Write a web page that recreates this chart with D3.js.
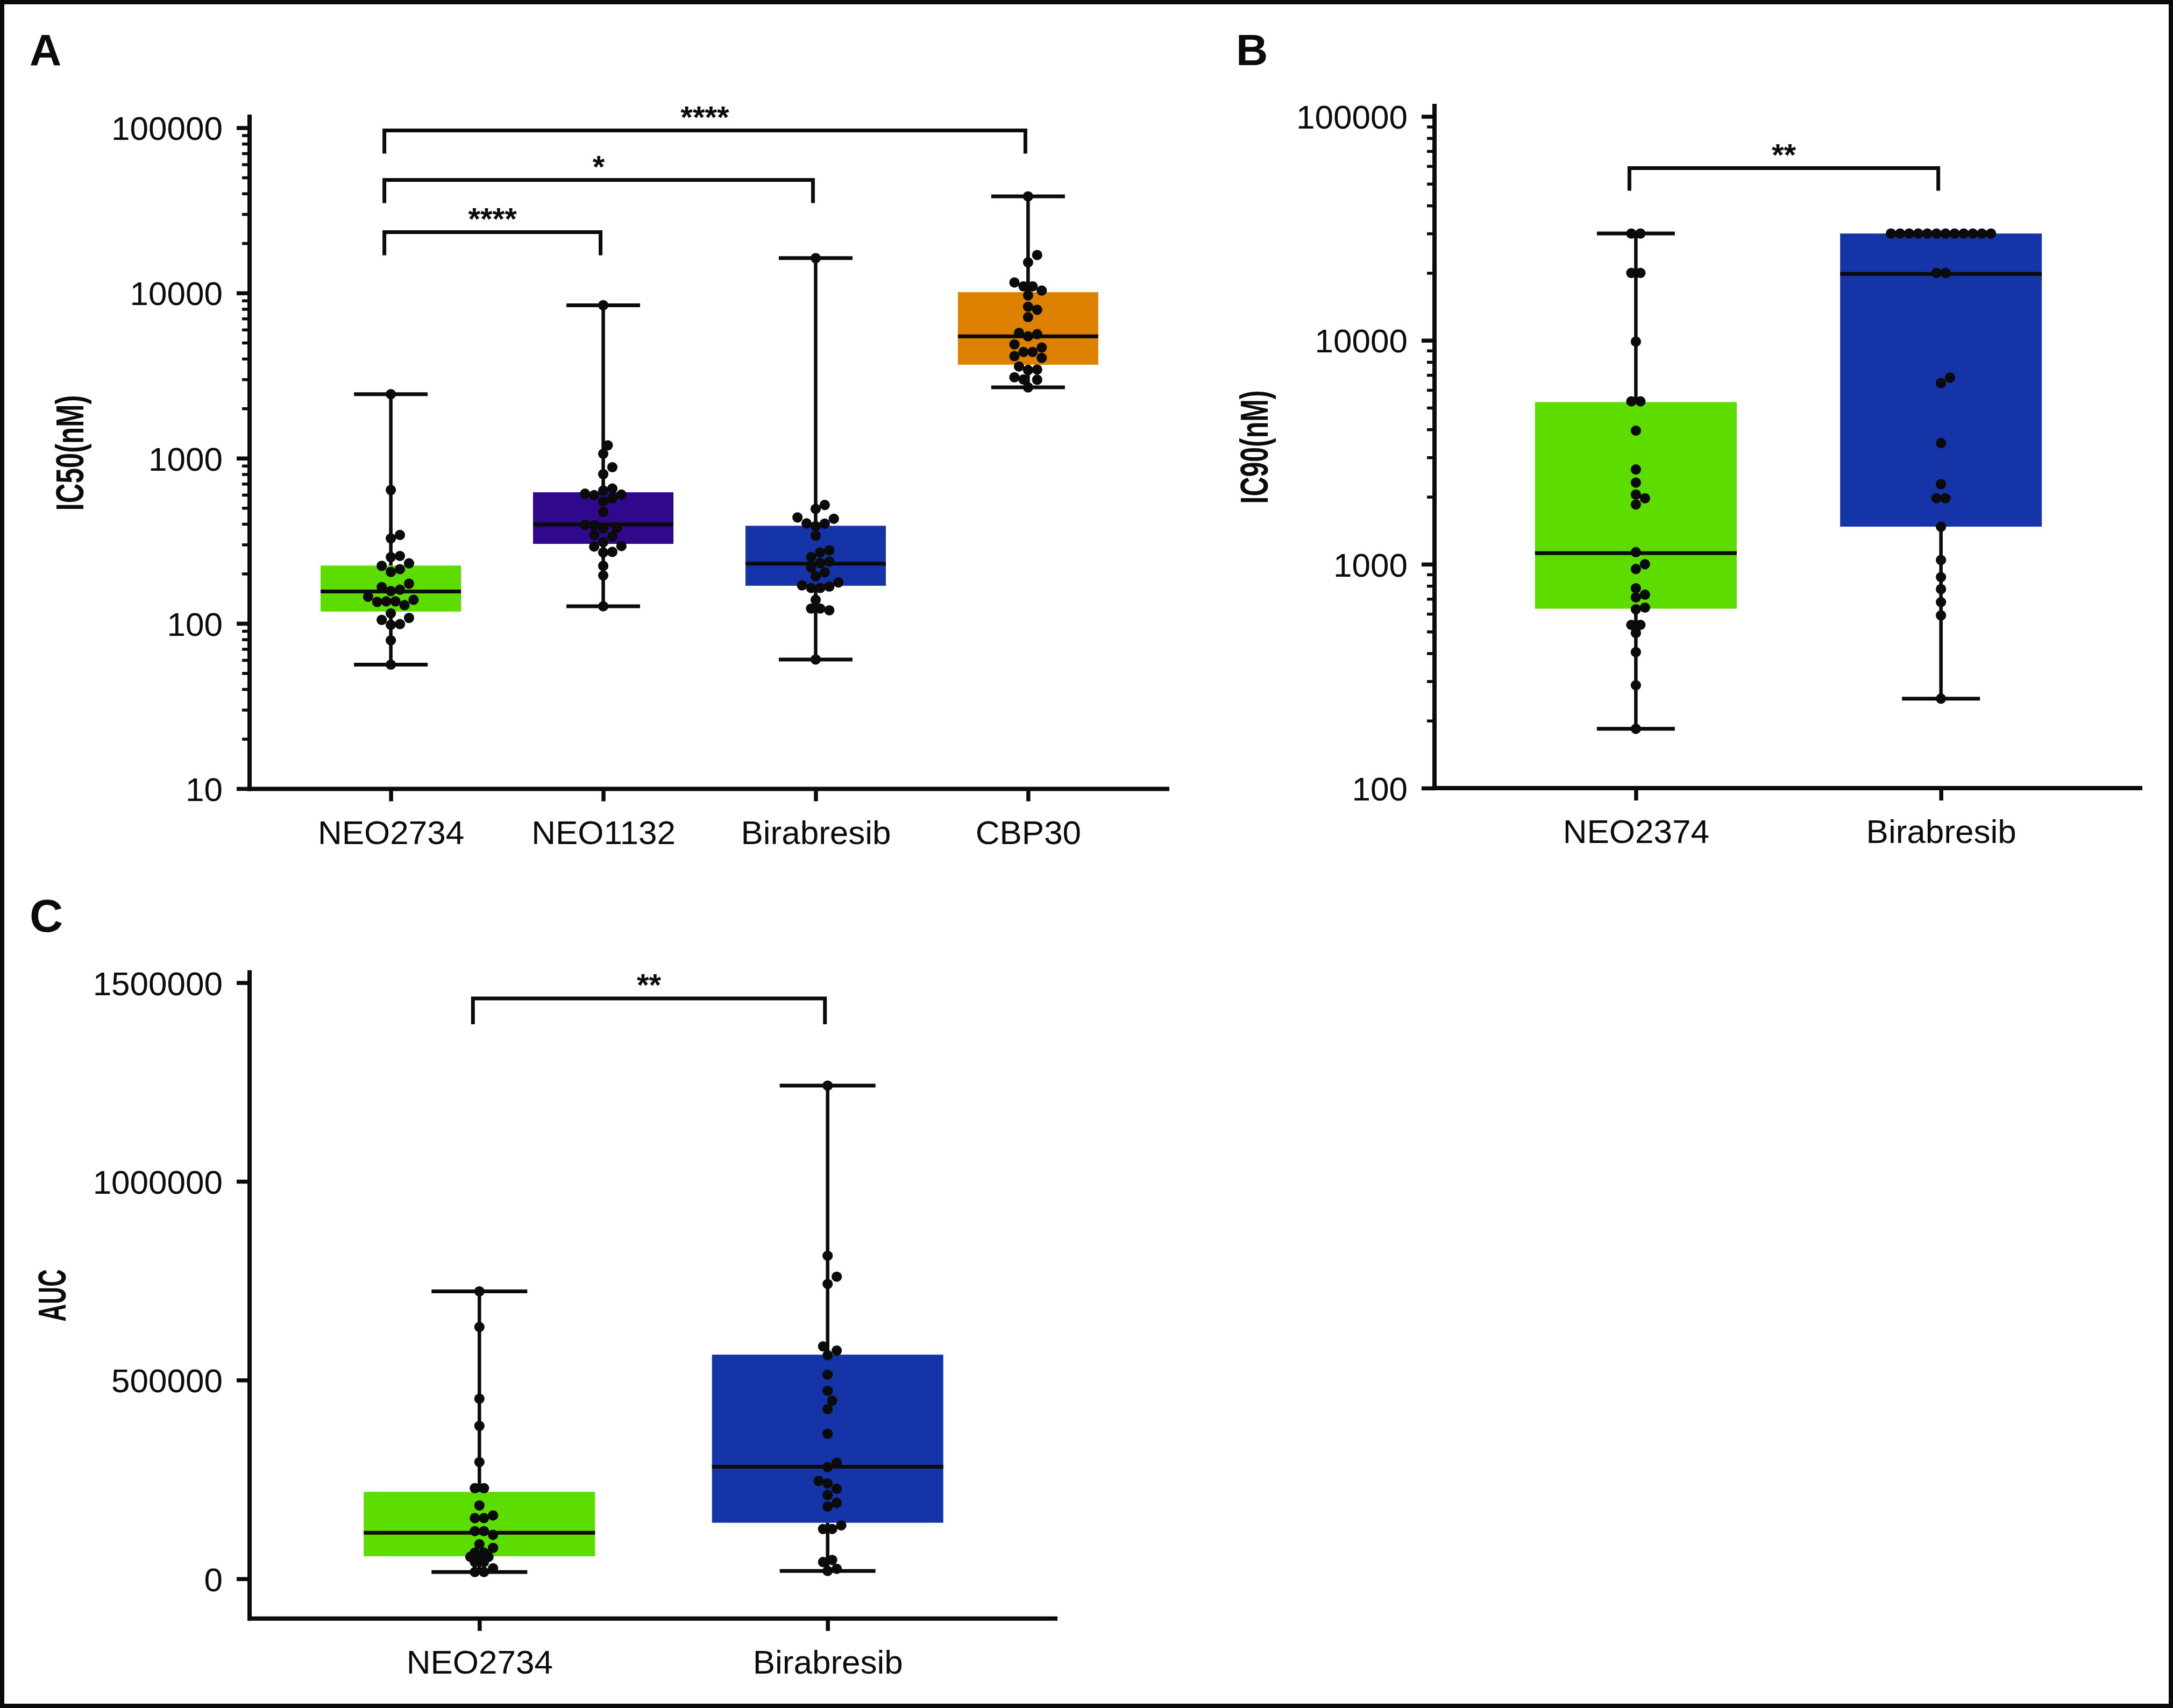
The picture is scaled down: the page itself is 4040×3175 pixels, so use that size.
<!DOCTYPE html>
<html><head><meta charset="utf-8">
<script src="https://cdn.jsdelivr.net/npm/d3@7"></script>
<style>
html,body{margin:0;padding:0;background:#fff;}
svg{display:block;}
</style></head><body>
<svg id="chart" width="4040" height="3175"></svg>
<script>
// ---------------- DATA ----------------
// Panel A : IC50 (nM)
const catsA = ["NEO2734", "NEO1132", "Birabresib", "CBP30"];
const ic50_NEO2734 = [2440, 642, 343, 327, 256, 252, 231, 223, 213, 205, 174, 166, 160, 157, 145, 139, 136, 136, 135, 129, 115, 108, 105, 98, 99, 79, 56.3];
const ic50_NEO1132 = [8430, 1197, 1064, 882, 801, 655, 637, 610, 602, 598, 571, 548, 473, 395, 393, 379, 375, 343, 336, 310, 294, 292, 271, 269, 223, 195, 127];
const ic50_Birabresib = [16250, 521, 493, 438, 430, 403, 402, 388, 340, 277, 269, 252, 237, 232, 218, 204, 193, 177, 170, 167, 164, 164, 139, 123, 123, 120, 60.5];
const ic50_CBP30 = [38450, 16970, 15320, 11580, 10960, 10960, 10340, 9670, 8256, 7914, 7143, 5730, 5632, 5465, 4882, 4677, 4395, 4395, 4150, 4047, 3589, 3439, 3414, 3088, 2997, 2985, 2683];
const boxA_min = [56.3, 127, 60.5, 2683];
const boxA_q1 = [118, 303, 169, 3680];
const boxA_med = [156, 397, 230, 5460];
const boxA_q3 = [224, 622, 390, 10110];
const boxA_max = [2440, 8430, 16250, 38450];
const ticksA = [10, 100, 1000, 10000, 100000];
const sigA_pairs = [[0, 1], [0, 2], [0, 3]];
const sigA_labels = ["****", "*", "****"];

// Panel B : IC90 (nM)
const catsB = ["NEO2374", "Birabresib"];
const ic90_NEO2374 = [30000, 30000, 20000, 20000, 9870, 5340, 5340, 3950, 2650, 2316, 2048, 1970, 1849, 1132, 1000, 952, 781, 731, 711, 640, 629, 536, 536, 493, 405, 288, 184];
const ic90_Birabresib = [30000, 30000, 30000, 30000, 30000, 30000, 30000, 30000, 30000, 30000, 30000, 30000, 20000, 20000, 6820, 6445, 3475, 2277, 1970, 1970, 1470, 1044, 876, 774, 677, 591, 251];
const boxB_min = [184, 251];
const boxB_q1 = [633, 1472];
const boxB_med = [1120, 19800];
const boxB_q3 = [5300, 30000];
const boxB_max = [30000, 30000];
const ticksB = [100, 1000, 10000, 100000];
const sigB_pairs = [[0, 1]];
const sigB_labels = ["**"];

// Panel C : AUC
const catsC = ["NEO2734", "Birabresib"];
const auc_NEO2734 = [723200, 633700, 453200, 384700, 293800, 228000, 228000, 184500, 159400, 152800, 152800, 119900, 119900, 110700, 87000, 77800, 65800, 65800, 55300, 55300, 55300, 42100, 42100, 26400, 17100, 17100];
const auc_Birabresib = [1241000, 812900, 760200, 741800, 584900, 574300, 562600, 513800, 473000, 448000, 426800, 364900, 292500, 280700, 246400, 239800, 226600, 210800, 191000, 181800, 134400, 125200, 125200, 47400, 42100, 25100, 19800];
const boxC_min = [17000, 19800];
const boxC_q1 = [56600, 141000];
const boxC_med = [116000, 282000];
const boxC_q3 = [218800, 564000];
const boxC_max = [723200, 1241000];
const ticksC = [0, 500000, 1000000, 1500000];
const sigC_pairs = [[0, 1]];
const sigC_labels = ["**"];

// ---------------- STYLE ----------------
const INK = "#0b0b0b";
const GREEN = "#5ddc00", PURPLE = "#2f088c", BLUE = "#1534a8", ORANGE = "#de8000";
const FONT = "'Liberation Sans', Arial, Helvetica, sans-serif";
const DOT_R = 9.6;

const svg = d3.select("#chart");
svg.append("rect").attr("x", 0).attr("y", 0).attr("width", 4040).attr("height", 3175).attr("fill", "#fff");
svg.append("rect").attr("x", 4).attr("y", 4).attr("width", 4032).attr("height", 3167)
  .attr("fill", "none").attr("stroke", INK).attr("stroke-width", 8);

// Scatter layout: tied values are centred in a row, others placed greedily
function swarm(values, y, step, minD) {
  const pts = values.map((v, i) => ({ v, y: y(v), i, dx: null }));
  const placed = [];
  const counts = d3.rollup(pts, v => v, d => d.v);
  for (const [v, arr] of counts) {
    if (arr.length > 1) {
      arr.forEach((p, j) => { p.dx = (j - (arr.length - 1) / 2) * minD; placed.push(p); });
    }
  }
  const rest = pts.filter(p => p.dx === null).sort((a, b) => b.y - a.y);
  const cands = [0];
  for (let k = 1; k < 60; k++) { cands.push(k * step, -k * step); }
  for (const p of rest) {
    for (const dx of cands) {
      if (placed.every(q => Math.hypot(q.dx - dx, q.y - p.y) >= minD - 1e-6)) { p.dx = dx; break; }
    }
    placed.push(p);
  }
  return pts;
}

function drawPanel(o) {
  const g = svg.append("g");
  const x = o.x, y = o.y;

  // axes lines
  g.append("line").attr("x1", o.axX).attr("x2", o.axX).attr("y1", o.yTop).attr("y2", o.axY + 4)
    .attr("stroke", INK).attr("stroke-width", 8);
  g.append("line").attr("x1", o.axX - 4).attr("x2", o.axEnd).attr("y1", o.axY).attr("y2", o.axY)
    .attr("stroke", INK).attr("stroke-width", 8);

  // y axis major ticks with labels
  const ay = g.append("g").attr("transform", `translate(${o.axX},0)`)
    .call(d3.axisLeft(y).tickValues(o.ticks).tickFormat(d3.format("d")).tickSize(24).tickPadding(26));
  ay.attr("font-size", 62).attr("font-family", FONT);
  ay.select(".domain").remove();
  ay.selectAll(".tick line").attr("stroke", INK).attr("stroke-width", 7.5);
  ay.selectAll(".tick text").attr("fill", INK).attr("dy", "0.36em");

  // minor ticks (log axes)
  if (o.minor) {
    const minor = [];
    const [d0, d1] = y.domain();
    for (let d = d0; d < d1; d *= 10) for (let m = 2; m <= 9; m++) minor.push(m * d);
    const am = g.append("g").attr("transform", `translate(${o.axX},0)`)
      .call(d3.axisLeft(y).tickValues(minor).tickFormat("").tickSize(14));
    am.select(".domain").remove();
    am.selectAll(".tick line").attr("stroke", INK).attr("stroke-width", 5.5);
  }

  // x axis
  const ax = g.append("g").attr("transform", `translate(0,${o.axY})`)
    .call(d3.axisBottom(x).tickSize(23).tickPadding(35));
  ax.attr("font-size", 62).attr("font-family", FONT);
  ax.select(".domain").remove();
  ax.selectAll(".tick line").attr("stroke", INK).attr("stroke-width", 7.5);
  ax.selectAll(".tick text").attr("fill", INK);

  // y title
  g.append("text").attr("transform", `translate(${o.titleX},${o.titleY}) rotate(-90)`)
    .attr("text-anchor", "middle").attr("font-family", FONT).attr("font-size", 72)
    .attr("font-weight", "bold")
    .attr("fill", INK).attr("textLength", o.titleLen).attr("lengthAdjust", "spacingAndGlyphs")
    .text(o.title);

  // panel letter
  g.append("text").attr("x", o.letterX).attr("y", o.letterY).attr("font-family", FONT)
    .attr("font-weight", "bold").attr("font-size", o.letterSize).attr("fill", INK).text(o.letter);

  // boxes
  o.cats.forEach((c, i) => {
    const cx = x(c);
    const bw = o.boxW, cw = o.capW;
    g.append("rect").attr("x", cx - bw / 2).attr("y", y(o.q3[i]))
      .attr("width", bw).attr("height", y(o.q1[i]) - y(o.q3[i])).attr("fill", o.colors[i]);
    // whiskers
    g.append("line").attr("x1", cx).attr("x2", cx).attr("y1", y(o.q1[i])).attr("y2", y(o.min[i]))
      .attr("stroke", INK).attr("stroke-width", 6.5);
    if (o.max[i] > o.q3[i]) {
      g.append("line").attr("x1", cx).attr("x2", cx).attr("y1", y(o.q3[i])).attr("y2", y(o.max[i]))
        .attr("stroke", INK).attr("stroke-width", 6.5);
    }
    [o.min[i], o.max[i]].forEach(v => {
      g.append("line").attr("x1", cx - cw / 2).attr("x2", cx + cw / 2).attr("y1", y(v)).attr("y2", y(v))
        .attr("stroke", INK).attr("stroke-width", 7);
    });
    g.append("line").attr("x1", cx - bw / 2).attr("x2", cx + bw / 2)
      .attr("y1", y(o.med[i])).attr("y2", y(o.med[i]))
      .attr("stroke", INK).attr("stroke-width", 7);
    // dots
    const pts = swarm(o.groups[i], y, 8.45, 16.9);
    g.append("g").selectAll("circle").data(pts).join("circle")
      .attr("cx", d => cx + d.dx).attr("cy", d => d.y).attr("r", DOT_R).attr("fill", INK);
  });

  // significance brackets
  o.sigPairs.forEach((pr, k) => {
    const x1 = x(o.cats[pr[0]]) - 12, x2 = x(o.cats[pr[1]]) - 5;
    const yl = o.sigLevels[k];
    g.append("path").attr("d", `M${x1},${yl + o.sigDrop}V${yl}H${x2}V${yl + o.sigDrop}`)
      .attr("fill", "none").attr("stroke", INK).attr("stroke-width", 7);
    g.append("text").attr("x", (x1 + x2) / 2).attr("y", yl - 5).attr("text-anchor", "middle")
      .attr("font-family", FONT).attr("font-weight", "bold").attr("font-size", 58).attr("fill", INK)
      .text(o.sigLabels[k]);
  });
}

// Panel A
drawPanel({
  cats: catsA,
  groups: [ic50_NEO2734, ic50_NEO1132, ic50_Birabresib, ic50_CBP30],
  min: boxA_min, q1: boxA_q1, med: boxA_med, q3: boxA_q3, max: boxA_max,
  colors: [GREEN, PURPLE, BLUE, ORANGE],
  x: d3.scalePoint().domain(catsA).range([464, 2174]).padding(0.665),
  y: d3.scaleLog().domain([10, 100000]).range([1466, 237.5]),
  ticks: ticksA, minor: true,
  axX: 464, axEnd: 2174, axY: 1466.5, yTop: 213,
  boxW: 261, capW: 137,
  title: "IC50(nM)", titleX: 155, titleY: 842, titleLen: 215,
  letter: "A", letterX: 55, letterY: 121, letterSize: 82,
  sigPairs: sigA_pairs, sigLabels: sigA_labels, sigLevels: [431.5, 334.5, 242.5], sigDrop: 43
});

// Panel B
drawPanel({
  cats: catsB,
  groups: [ic90_NEO2374, ic90_Birabresib],
  min: boxB_min, q1: boxB_q1, med: boxB_med, q3: boxB_q3, max: boxB_max,
  colors: [GREEN, BLUE],
  x: d3.scalePoint().domain(catsB).range([2667, 3983]).padding(0.66),
  y: d3.scaleLog().domain([100, 100000]).range([1465, 216.5]),
  ticks: ticksB, minor: true,
  axX: 2667, axEnd: 3983, axY: 1465, yTop: 193,
  boxW: 375, capW: 145,
  title: "IC90(nM)", titleX: 2357, titleY: 831, titleLen: 211,
  letter: "B", letterX: 2298, letterY: 121, letterSize: 82,
  sigPairs: sigB_pairs, sigLabels: sigB_labels, sigLevels: [312.5], sigDrop: 42
});

// Panel C
drawPanel({
  cats: catsC,
  groups: [auc_NEO2734, auc_Birabresib],
  min: boxC_min, q1: boxC_q1, med: boxC_med, q3: boxC_q3, max: boxC_max,
  colors: [GREEN, BLUE],
  x: d3.scalePoint().domain(catsC).range([464, 1966]).padding(0.66),
  y: d3.scaleLinear().domain([-100000, 1500000]).range([3008.7, 1826.7]),
  ticks: ticksC, minor: false,
  axX: 464, axEnd: 1966, axY: 3008.7, yTop: 1803.5,
  boxW: 430, capW: 178,
  title: "AUC", titleX: 122, titleY: 2408, titleLen: 97,
  letter: "C", letterX: 55, letterY: 1732, letterSize: 86,
  sigPairs: sigC_pairs, sigLabels: sigC_labels, sigLevels: [1856], sigDrop: 48
});
</script>
</body></html>
